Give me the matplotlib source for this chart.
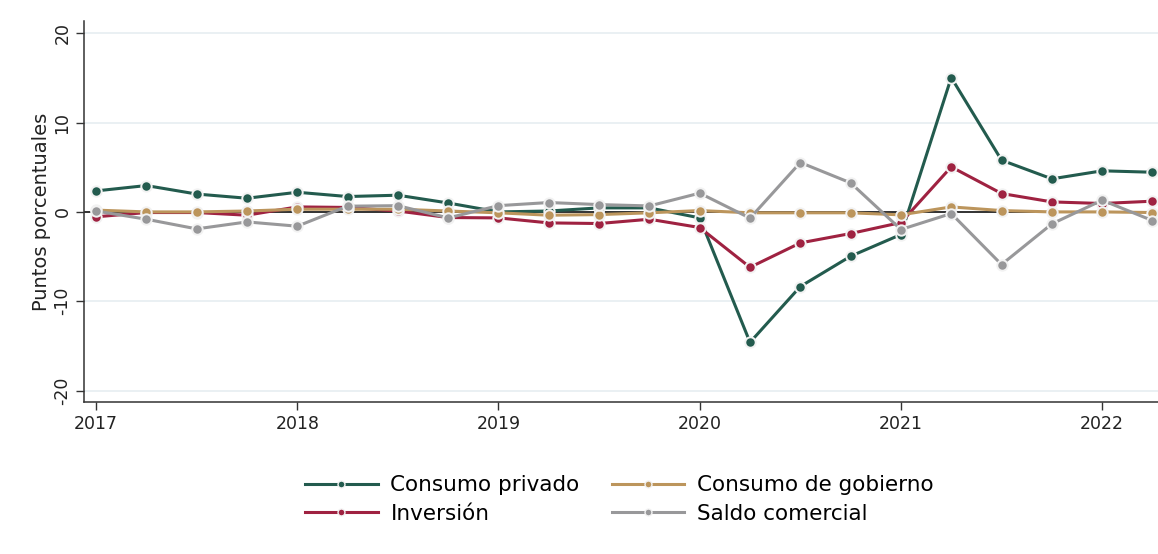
import matplotlib
matplotlib.use("Agg")
import matplotlib.pyplot as plt
from matplotlib.lines import Line2D

plt.rcParams["font.family"] = ["DejaVu Sans"]

# Quarterly periods, 2017 Q1 – 2022 Q2
periods = ["2017T1", "2017T2", "2017T3", "2017T4",
           "2018T1", "2018T2", "2018T3", "2018T4",
           "2019T1", "2019T2", "2019T3", "2019T4",
           "2020T1", "2020T2", "2020T3", "2020T4",
           "2021T1", "2021T2", "2021T3", "2021T4",
           "2022T1", "2022T2"]
year_labels = ["2017", "2018", "2019", "2020", "2021", "2022"]

# Contributions to growth (percentage points)
consumo_privado = [2.35, 2.95, 2.0, 1.53, 2.2, 1.72, 1.87, 1.0, 0.0, 0.1, 0.45,
                   0.45, -0.67, -14.6, -8.35, -4.96, -2.53, 15.04, 5.79, 3.7, 4.6, 4.44]
inversion = [-0.55, -0.07, -0.07, -0.37, 0.56, 0.5, 0.1, -0.63, -0.67, -1.23, -1.3,
             -0.82, -1.75, -6.2, -3.47, -2.42, -1.19, 5.04, 2.06, 1.12, 0.94, 1.2]
consumo_gobierno = [0.2, 0.0, 0.0, 0.1, 0.3, 0.3, 0.3, 0.1, -0.1, -0.37, -0.3,
                    -0.1, 0.15, -0.1, -0.1, -0.1, -0.33, 0.56, 0.15, 0.0, 0.0, -0.07]
saldo_comercial = [0.1, -0.82, -1.9, -1.12, -1.6, 0.64, 0.7, -0.67, 0.7, 1.05, 0.82,
                   0.67, 2.1, -0.7, 5.53, 3.25, -1.97, -0.18, -5.89, -1.34, 1.31, -0.97]

series = [
    ("Consumo privado", consumo_privado, "#235b4e"),
    ("Inversión", inversion, "#9f2241"),
    ("Consumo de gobierno", consumo_gobierno, "#bc955c"),
    ("Saldo comercial", saldo_comercial, "#98989a"),
]

fig = plt.figure(figsize=(11.58, 5.54), dpi=100)
ax = fig.add_axes([0.0725, 0.274, 0.9275, 0.6886])

x = list(range(len(periods)))

for yv in [-20, -10, 10, 20]:
    ax.axhline(yv, color="#e6edf1", lw=1.2, zorder=0)
ax.axhline(0, color="#222222", lw=1.3, zorder=1)

handles = []
for label, values, color in series:
    ax.plot(x, values, color=color, lw=2.2, marker="o", ms=7.5,
            markerfacecolor=color, markeredgecolor="#f2f2f2", markeredgewidth=1.4,
            zorder=3, clip_on=False)
    handles.append(Line2D([0], [0], color=color, lw=2.2, marker="o", ms=5,
                          markerfacecolor=color, markeredgecolor="#f2f2f2",
                          markeredgewidth=1.0))

ax.set_xlim(-0.24, 21.11)
ax.set_ylim(-21.3, 21.4)
ax.set_xticks(x[::4])
ax.set_xticklabels(year_labels)
ax.set_yticks([-20, -10, 0, 10, 20])
ax.set_yticklabels(["-20", "-10", "0", "10", "20"], rotation=90, va="center")

for s in ["top", "right"]:
    ax.spines[s].set_visible(False)
for s in ["left", "bottom"]:
    ax.spines[s].set_color("#333333")
    ax.spines[s].set_linewidth(1.1)

ax.tick_params(axis="both", colors="#333333", labelcolor="#222222",
               labelsize=12.5, length=6, width=1.0)
ax.tick_params(axis="y", pad=3)
ax.set_ylabel("Puntos porcentuales", fontsize=14, color="#222222", labelpad=2)

fig.legend(handles, [s[0] for s in series], ncol=2, loc="center",
           bbox_to_anchor=(0.535, 0.0984), frameon=False, fontsize=15.5,
           handlelength=3.35, columnspacing=1.5, labelspacing=0.4,
           handletextpad=0.6)

fig.savefig("out.png", dpi=100, facecolor="white")
